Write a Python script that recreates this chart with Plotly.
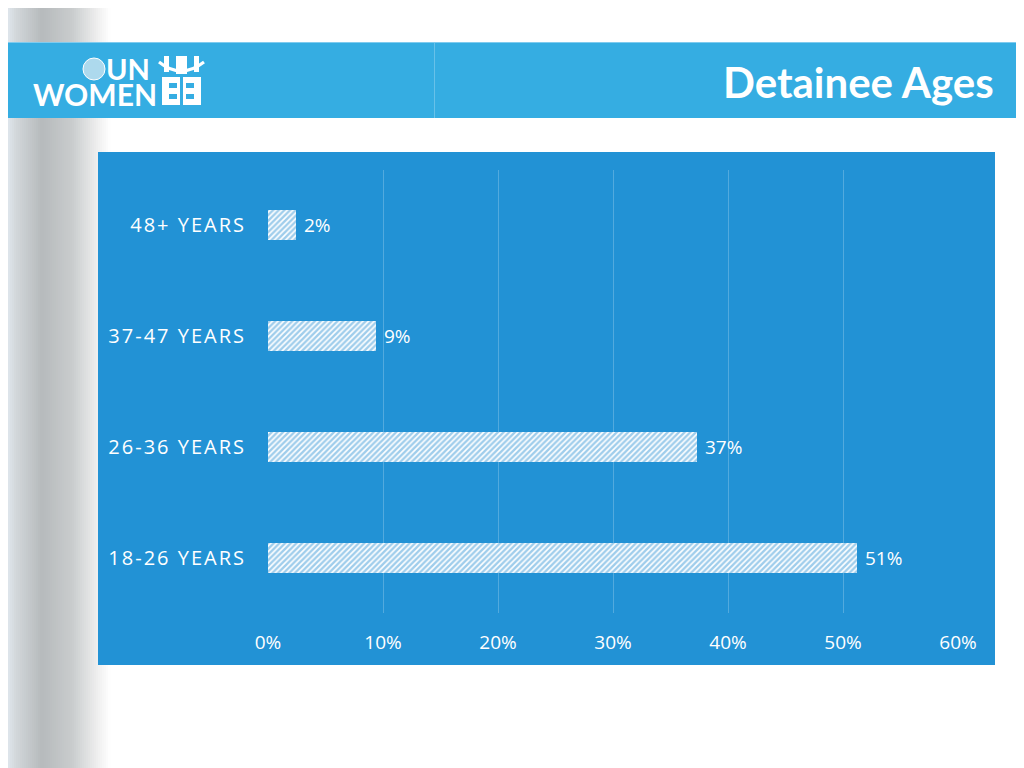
import plotly.graph_objects as go

# === Data ===
age_groups = ["18-26 YEARS", "26-36 YEARS", "37-47 YEARS", "48+ YEARS"]
share = [0.512, 0.373, 0.094, 0.024]
x_ticks = [0, 0.1, 0.2, 0.3, 0.4, 0.5, 0.6]

title = "Detainee Ages"

W, H = 1024, 768
OFF = 8  # the page body margin shifts the figure by 8px
chart_bg = "#2292d5"
header_bg = "#35ade2"


def px(x):
    return (x - OFF) / W


def py(y):
    return 1 - (y - OFF) / H


def mix(c1, c2, t):
    a = [int(c1[i:i + 2], 16) for i in (1, 3, 5)]
    b = [int(c2[i:i + 2], 16) for i in (1, 3, 5)]
    return "rgb(%d,%d,%d)" % tuple(round(a[k] + (b[k] - a[k]) * t) for k in range(3))


def spaced(s):
    # the slide uses wide letter spacing on the category labels
    return "\u200a".join(s)


fig = go.Figure()

fig.add_trace(go.Bar(
    x=share,
    y=age_groups,
    orientation="h",
    width=0.27,
    marker=dict(
        color="white",
        line=dict(width=0),
        pattern=dict(shape="/", fgcolor="#3f9bd8", bgcolor="white", size=4, solidity=0.6),
    ),
    texttemplate="\u00a0%{x:.0%}",
    textposition="outside",
    textfont=dict(family="Open Sans", size=19, color="white"),
    cliponaxis=False,
    hoverinfo="skip",
))

shapes = []

# grey gradient strip on the left edge
stops = [(8, "#dfe6ec"), (16, "#d2d7da"), (42, "#b6babc"), (72, "#c9cccd"), (100, "#f2f2f2"), (110, "#ffffff")]
for (x0, c0), (x1, c1) in zip(stops[:-1], stops[1:]):
    n = max(1, (x1 - x0) // 2)
    for k in range(n):
        a = x0 + (x1 - x0) * k / n
        b = x0 + (x1 - x0) * (k + 1) / n
        shapes.append(dict(type="rect", xref="paper", yref="paper",
                           x0=px(a), x1=px(b) + 0.001, y0=0, y1=1,
                           fillcolor=mix(c0, c1, (k + 0.5) / n), line=dict(width=0), layer="below"))

# header band
shapes.append(dict(type="rect", xref="paper", yref="paper", x0=0, x1=1, y0=py(118), y1=py(42),
                   fillcolor=header_bg, line=dict(width=0), layer="below"))
shapes.append(dict(type="line", xref="paper", yref="paper", x0=0, x1=1, y0=py(42.5), y1=py(42.5),
                   line=dict(color="#7fcbef", width=1), layer="below"))
shapes.append(dict(type="line", xref="paper", yref="paper", x0=px(434.5), x1=px(434.5), y0=py(118), y1=py(43),
                   line=dict(color="rgba(255,255,255,0.25)", width=1), layer="below"))

# chart panel
shapes.append(dict(type="rect", xref="paper", yref="paper", x0=px(98), x1=px(995), y0=py(665), y1=py(152),
                   fillcolor=chart_bg, line=dict(width=0), layer="below"))

# logo: emblem + icon blocks
shapes.append(dict(type="circle", xref="paper", yref="paper", x0=px(83), x1=px(105), y0=py(80), y1=py(58),
                   fillcolor="rgba(225,235,242,0.7)", line=dict(color="white", width=1)))
for (a, b, c, d) in [(164, 169, 56, 72), (176, 187, 56, 74), (194, 199, 56, 72),
                     (162, 201, 77, 105)]:
    shapes.append(dict(type="rect", xref="paper", yref="paper", x0=px(a), x1=px(b), y0=py(d), y1=py(c),
                       fillcolor="white", line=dict(width=0)))
shapes.append(dict(type="path", xref="paper", yref="paper",
                   path="M %f,%f Q %f,%f %f,%f" % (px(159), py(62), px(181), py(80), px(204), py(62)),
                   line=dict(color="white", width=3)))
for (a, b, c, d) in [(169, 177, 83, 88), (169, 177, 94, 99), (186, 194, 83, 88), (186, 194, 94, 99),
                     (180, 183, 77, 105)]:
    shapes.append(dict(type="rect", xref="paper", yref="paper", x0=px(a), x1=px(b), y0=py(d), y1=py(c),
                       fillcolor=header_bg, line=dict(width=0)))

annotations = [
    dict(text="<b>%s</b>" % title, xref="paper", yref="paper", x=px(996), y=py(82),
         xanchor="right", yanchor="middle", showarrow=False,
         font=dict(family="Lato", size=42, color="white")),
    dict(text="<b>UN</b>", xref="paper", yref="paper", x=px(152), y=py(68),
         xanchor="right", yanchor="middle", showarrow=False,
         font=dict(family="Lato", size=29, color="white")),
    dict(text="<b>WOMEN</b>", xref="paper", yref="paper", x=px(31), y=py(94),
         xanchor="left", yanchor="middle", showarrow=False,
         font=dict(family="Lato", size=30, color="white")),
]

fig.update_layout(
    width=W, height=H,
    autosize=False,
    margin=dict(l=0, r=0, t=0, b=0, pad=0),
    paper_bgcolor="white",
    plot_bgcolor="rgba(0,0,0,0)",
    showlegend=False,
    bargap=0,
    shapes=shapes,
    annotations=annotations,
    xaxis=dict(
        domain=[px(268), px(958)],
        range=[0, 0.6],
        tickvals=x_ticks,
        tickformat=".0%",
        showgrid=True,
        gridcolor="rgba(255,255,255,0.22)",
        gridwidth=1,
        zeroline=False,
        showline=False,
        automargin=False,
        ticks="outside", ticklen=12, tickcolor="rgba(0,0,0,0)",
        tickfont=dict(family="Open Sans", size=19, color="white"),
        fixedrange=True,
    ),
    yaxis=dict(
        domain=[py(613), py(170)],
        categoryorder="array",
        categoryarray=age_groups,
        tickvals=age_groups,
        ticktext=[spaced(g) for g in age_groups],
        showgrid=False,
        zeroline=False,
        showline=False,
        automargin=False,
        ticks="outside", ticklen=19, tickcolor="rgba(0,0,0,0)",
        tickfont=dict(family="Open Sans", size=20, color="white"),
        fixedrange=True,
    ),
)

fig.write_html("out.html")
